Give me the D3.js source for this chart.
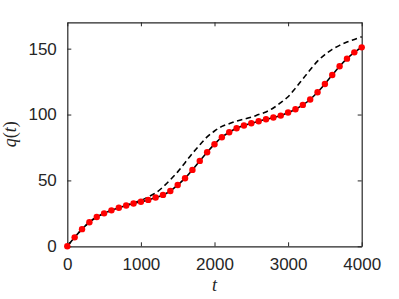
<!DOCTYPE html>
<html>
<head>
<meta charset="utf-8">
<script src="https://cdn.jsdelivr.net/npm/d3@7"></script>
<style>
	body { margin: 0; background: #fff; }
	svg { display: block; }
	.tick text { font-family: "Liberation Sans", Arial, sans-serif; font-size: 17px; fill: #262626; }
</style>
</head>
<body>
<div id="chart"></div>
<script>
// samples every 100 time units
const times = d3.range(0, 4001, 100);
const qFit = [0, 6.8, 13, 18.3, 22.2, 25, 27.3, 29.3, 31, 32.5, 33.8,
	35.2, 37, 39, 42, 46.5, 51.7, 58, 64.8, 71.4, 77.5,
	82.8, 86.6, 89.6, 91.7, 93.4, 94.9, 96.4, 97.7, 99.2, 101.5,
	104, 107.3, 111.4, 116.9, 123.2, 130, 136.6, 142.4, 147.2, 151];
const qModel = [0, 6.8, 13, 18.3, 22.2, 25, 27.3, 29.5, 31.3, 33, 34.8,
	37.5, 40.5, 45, 50.5, 56.5, 63.5, 70.5, 77, 83, 87.5,
	91, 93, 95, 96.5, 98, 100, 102, 105, 109, 113.5,
	120, 127, 134, 140.5, 145.5, 149.5, 152.5, 155, 157, 159];
const xTicks = [0, 1000, 2000, 3000, 4000];
const yTicks = [0, 50, 100, 150];

const width = 399;
const height = 299;
const mLeft = 67.3, mRight = 361.7, mTop = 22.3, mBottom = 246.3;
const axisColor = "#262626";

const x = d3.scaleLinear().domain([0, 4000]).range([mLeft, mRight]);
const y = d3.scaleLinear().domain([0, 170]).range([mBottom, mTop]);

const svg = d3.select("#chart")
	.append("svg")
	.attr("width", width)
	.attr("height", height);

// axes box, ticks pointing inside
function styleAxis(g) {
	g.selectAll("path.domain").attr("stroke", axisColor).attr("stroke-width", 1.2);
	g.selectAll(".tick line").attr("stroke", axisColor).attr("stroke-width", 1);
}

svg.append("g")
	.attr("transform", `translate(0,${mBottom})`)
	.call(d3.axisBottom(x).tickValues(xTicks).tickFormat(d3.format("d"))
		.tickSize(-4).tickSizeOuter(0).tickPadding(12))
	.call(styleAxis);

svg.append("g")
	.attr("transform", `translate(0,${mTop})`)
	.call(d3.axisTop(x).tickValues(xTicks).tickSize(-4).tickSizeOuter(0).tickFormat(""))
	.call(styleAxis);

svg.append("g")
	.attr("transform", `translate(${mLeft},0)`)
	.call(d3.axisLeft(y).tickValues(yTicks).tickFormat(d3.format("d"))
		.tickSize(-4).tickSizeOuter(0).tickPadding(10.5))
	.call(styleAxis);

svg.append("g")
	.attr("transform", `translate(${mRight},0)`)
	.call(d3.axisRight(y).tickValues(yTicks).tickSize(-4).tickSizeOuter(0).tickFormat(""))
	.call(styleAxis);

svg.selectAll("g").attr("font-family", null).attr("font-size", null);

const line = d3.line()
	.x((d, i) => x(times[i]))
	.y(d => y(d))
	.curve(d3.curveCatmullRom);

svg.append("path")
	.datum(qModel)
	.attr("d", line)
	.attr("fill", "none")
	.attr("stroke", "#000")
	.attr("stroke-width", 1.6)
	.attr("stroke-dasharray", "5.5,3.5");

svg.append("path")
	.datum(qFit)
	.attr("d", line)
	.attr("fill", "none")
	.attr("stroke", "#000")
	.attr("stroke-width", 1.6);

svg.selectAll("circle.pt")
	.data(qFit)
	.enter()
	.append("circle")
	.attr("class", "pt")
	.attr("cx", (d, i) => x(times[i]))
	.attr("cy", d => y(d))
	.attr("r", 3.2)
	.attr("fill", "#ff0000");

// axis labels
svg.append("text")
	.text("t")
	.attr("x", (mLeft + mRight) / 2)
	.attr("y", 291)
	.attr("text-anchor", "middle")
	.attr("font-family", "Liberation Serif, serif")
	.attr("font-style", "italic")
	.attr("font-size", "18px")
	.attr("fill", axisColor);

const ylab = svg.append("text")
	.attr("transform", `translate(16,${(mTop + mBottom) / 2}) rotate(-90)`)
	.attr("text-anchor", "middle")
	.attr("font-family", "Liberation Serif, serif")
	.attr("font-size", "18px")
	.attr("fill", axisColor);
ylab.append("tspan").attr("font-style", "italic").text("q");
ylab.append("tspan").text("(");
ylab.append("tspan").attr("font-style", "italic").text("t");
ylab.append("tspan").text(")");
</script>
</body>
</html>
